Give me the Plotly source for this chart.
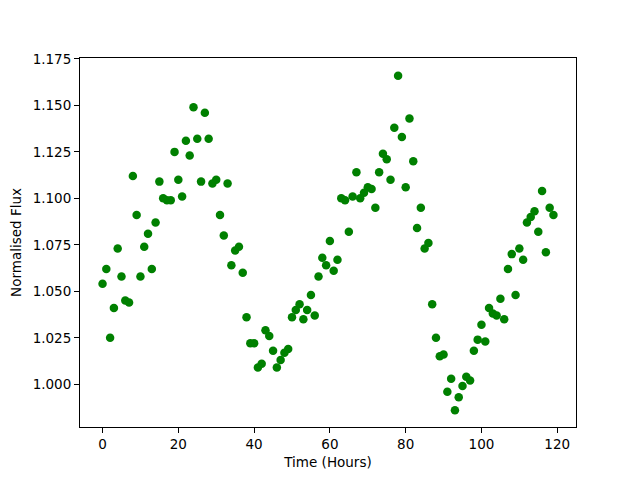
import plotly.graph_objects as go

hours = list(range(120))
flux = [
    1.054, 1.062, 1.025, 1.041, 1.073, 1.058, 1.045, 1.044, 1.112, 1.091,
    1.058, 1.074, 1.081, 1.062, 1.087, 1.109, 1.100, 1.099, 1.099, 1.125,
    1.110, 1.101, 1.131, 1.123, 1.149, 1.132, 1.109, 1.146, 1.132, 1.108,
    1.110, 1.091, 1.080, 1.108, 1.064, 1.072, 1.074, 1.060, 1.036, 1.022,
    1.022, 1.009, 1.011, 1.029, 1.026, 1.018, 1.009, 1.013, 1.017, 1.019,
    1.036, 1.040, 1.043, 1.035, 1.040, 1.048, 1.037, 1.058, 1.068, 1.064,
    1.077, 1.061, 1.067, 1.100, 1.099, 1.082, 1.101, 1.114, 1.100, 1.103,
    1.106, 1.105, 1.095, 1.114, 1.124, 1.121, 1.110, 1.138, 1.166, 1.133,
    1.106, 1.143, 1.120, 1.084, 1.095, 1.073, 1.076, 1.043, 1.025, 1.015,
    1.016, 0.996, 1.003, 0.986, 0.993, 0.999, 1.004, 1.002, 1.018, 1.024,
    1.032, 1.023, 1.041, 1.038, 1.037, 1.046, 1.035, 1.062, 1.070, 1.048,
    1.073, 1.067, 1.087, 1.090, 1.093, 1.082, 1.104, 1.071, 1.095, 1.091,
]
x_ticks = [0, 20, 40, 60, 80, 100, 120]
y_ticks = [1.000, 1.025, 1.050, 1.075, 1.100, 1.125, 1.150, 1.175]

fig = go.Figure(go.Scatter(
    x=hours, y=flux, mode="markers",
    marker=dict(color="#008000", size=8.5, line=dict(width=0)),
))

font = dict(family="DejaVu Sans", size=13.5, color="black")
fig.update_layout(
    width=640, height=480,
    margin=dict(l=72, r=72, t=50, b=61),
    paper_bgcolor="white", plot_bgcolor="white",
    font=font, showlegend=False,
)
fig.update_xaxes(
    range=[-5.95, 124.95], tickvals=x_ticks, ticktext=[str(v) for v in x_ticks],
    showgrid=False, zeroline=False, showline=True, linecolor="black", linewidth=1,
    mirror=True, ticks="outside", ticklen=5, tickcolor="black", automargin=False,
    title=dict(text="Time (Hours)", standoff=6, font=font),
)
fig.update_yaxes(
    range=[0.977, 1.1755], tickvals=y_ticks, ticktext=[f"{v:.3f}" for v in y_ticks],
    showgrid=False, zeroline=False, showline=True, linecolor="black", linewidth=1,
    mirror=True, ticks="outside", ticklen=5, tickcolor="black", automargin=False,
    title=dict(text="Normalised Flux", standoff=8, font=font),
)
fig.write_html("out.html")
